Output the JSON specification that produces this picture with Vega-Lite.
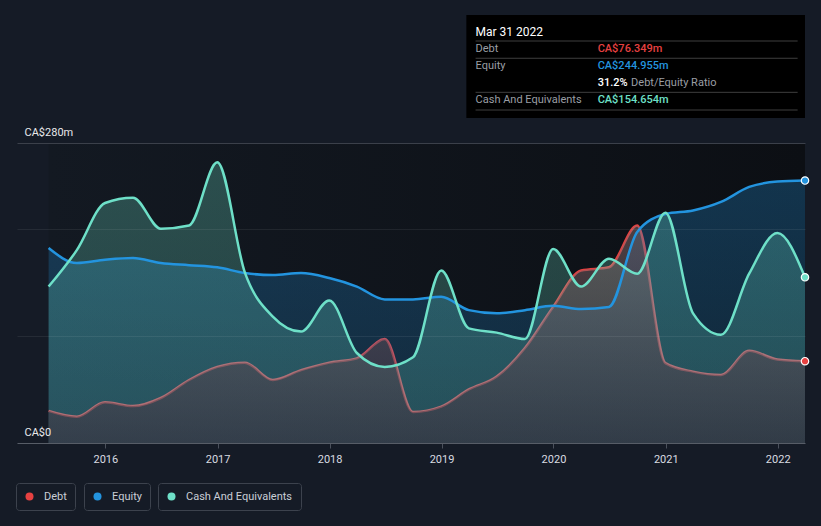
{
  "$schema": "https://vega.github.io/schema/vega-lite/v6.json",
  "width": 788,
  "height": 300,
  "autosize": {"type": "none"},
  "padding": {"left": 17, "top": 143, "right": 16, "bottom": 83},
  "background": "#151b26",
  "config": {"view": {"stroke": null}, "font": "Roboto"},
  "datasets": {
    "main": [
      {"date": "2015-06-30", "debt": 30, "equity": 182, "cash": 146},
      {"date": "2015-09-30", "debt": 24.6, "equity": 168, "cash": 180},
      {"date": "2015-12-31", "debt": 38, "equity": 171, "cash": 224},
      {"date": "2016-03-31", "debt": 34.5, "equity": 172.6, "cash": 229},
      {"date": "2016-06-30", "debt": 42, "equity": 168, "cash": 200},
      {"date": "2016-09-30", "debt": 58.8, "equity": 166, "cash": 203},
      {"date": "2016-12-31", "debt": 71, "equity": 164, "cash": 262},
      {"date": "2017-03-31", "debt": 75, "equity": 158.6, "cash": 159},
      {"date": "2017-06-30", "debt": 58.8, "equity": 156.8, "cash": 118},
      {"date": "2017-09-30", "debt": 68, "equity": 158.6, "cash": 104},
      {"date": "2017-12-31", "debt": 75, "equity": 154, "cash": 133},
      {"date": "2018-03-31", "debt": 79, "equity": 146, "cash": 84},
      {"date": "2018-06-30", "debt": 97, "equity": 134, "cash": 71},
      {"date": "2018-09-30", "debt": 29, "equity": 134, "cash": 80},
      {"date": "2018-12-31", "debt": 34, "equity": 136.5, "cash": 161},
      {"date": "2019-03-31", "debt": 50, "equity": 124, "cash": 107},
      {"date": "2019-06-30", "debt": 62, "equity": 121, "cash": 103},
      {"date": "2019-09-30", "debt": 88.6, "equity": 124, "cash": 97},
      {"date": "2019-12-31", "debt": 127, "equity": 128, "cash": 181},
      {"date": "2020-03-31", "debt": 161, "equity": 125, "cash": 146},
      {"date": "2020-06-30", "debt": 164, "equity": 127, "cash": 172},
      {"date": "2020-09-30", "debt": 203, "equity": 197, "cash": 158},
      {"date": "2020-12-31", "debt": 74.6, "equity": 213.7, "cash": 215},
      {"date": "2021-03-31", "debt": 66.6, "equity": 217, "cash": 121},
      {"date": "2021-06-30", "debt": 63.5, "equity": 225, "cash": 101},
      {"date": "2021-09-30", "debt": 86, "equity": 239, "cash": 158},
      {"date": "2021-12-31", "debt": 78, "equity": 244, "cash": 196},
      {"date": "2022-03-31", "debt": 76.349, "equity": 244.955, "cash": 154.654}
    ],
    "tip": [
      {"kind": "header", "text": "Mar 31 2022", "date": "2019-04-22", "level": 383.5},
      {"kind": "label", "text": "Debt", "date": "2019-04-22", "level": 367.7},
      {"kind": "label", "text": "Equity", "date": "2019-04-22", "level": 351.9},
      {"kind": "label", "text": "Debt/Equity Ratio", "date": "2020-09-10", "level": 336},
      {"kind": "label", "text": "Cash And Equivalents", "date": "2019-04-22", "level": 320.1},
      {"kind": "value", "series": "Debt", "text": "CA$76.349m", "date": "2020-05-24", "level": 367.7},
      {"kind": "value", "series": "Equity", "text": "CA$244.955m", "date": "2020-05-24", "level": 351.9},
      {"kind": "value", "series": "Ratio", "text": "31.2%", "date": "2020-05-24", "level": 336},
      {"kind": "value", "series": "Cash", "text": "CA$154.654m", "date": "2020-05-24", "level": 320.1}
    ],
    "tipLines": [
      {"from": "2019-04-22", "to": "2022-03-07", "level": 375.2},
      {"from": "2019-04-22", "to": "2022-03-07", "level": 359.1},
      {"from": "2019-04-22", "to": "2022-03-07", "level": 327.3},
      {"from": "2019-04-22", "to": "2022-03-07", "level": 310.8}
    ],
    "tipBox": [
      {"from": "2019-03-23", "to": "2022-03-31", "low": 303.3, "high": 399.5}
    ]
  },
  "data": {"name": "main"},
  "resolve": {"scale": {"color": "independent"}},
  "layer": [
    {
      "mark": {"type": "rect", "fill": {"gradient": "linear", "x1": 0, "y1": 0, "x2": 1, "y2": 0, "stops": [{"offset": 0, "color": "#131922"}, {"offset": 1, "color": "#0c0f14"}]}},
      "encoding": {
        "x": {"aggregate": "min", "field": "date", "type": "temporal", "title": null,
          "scale": {"domain": [{"year": 2015, "month": 3, "date": 19}, {"year": 2022, "month": 3, "date": 31}]},
          "axis": {"format": "%Y", "tickCount": {"interval": "year", "step": 1}, "labelColor": "#d9dce1", "labelFontSize": 11, "labelPadding": 5, "tickColor": "#4b515c", "tickSize": 5, "domainColor": "#4b515c", "grid": false, "labelFlush": false, "title": null}},
        "x2": {"aggregate": "max", "field": "date"},
        "y": {"datum": 0, "type": "quantitative", "title": null, "scale": {"domain": [0, 280], "nice": false},
          "axis": {"values": [0, 100, 200, 280], "grid": true,
            "gridColor": {"condition": {"test": "datum.value === 280", "value": "#3b404a"}, "value": "#ffffff"},
            "gridOpacity": {"condition": {"test": "datum.value === 280", "value": 1}, "value": 0.07},
            "labelExpr": "datum.value === 280 ? 'CA$280m' : (datum.value === 0 ? 'CA$0' : '')",
            "labelAlign": "left", "labelPadding": -7, "ticks": false, "domain": false,
            "labelColor": "#e8e9eb", "labelFontSize": 11, "labelBaseline": "bottom", "labelOffset": -6,
            "labelFlush": false, "labelOverlap": false, "zindex": 1, "title": null}},
        "y2": {"datum": 280}
      }
    },
    {
      "mark": {"type": "line", "interpolate": "monotone", "stroke": "#e64141", "strokeWidth": 2.5},
      "encoding": {
        "x": {"field": "date", "type": "temporal", "title": null, "scale": {"domain": [{"year": 2015, "month": 3, "date": 19}, {"year": 2022, "month": 3, "date": 31}]}},
        "y": {"field": "debt", "type": "quantitative", "title": null, "scale": {"domain": [0, 280], "nice": false}}
      }
    },
    {
      "mark": {"type": "area", "interpolate": "monotone", "fill": {"gradient": "linear", "x1": 0, "y1": 0, "x2": 0, "y2": 1, "stops": [{"offset": 0, "color": "rgba(35,148,223,0.28)"}, {"offset": 1, "color": "rgba(35,148,223,0.17)"}]}},
      "encoding": {
        "x": {"field": "date", "type": "temporal", "title": null, "scale": {"domain": [{"year": 2015, "month": 3, "date": 19}, {"year": 2022, "month": 3, "date": 31}]}},
        "y": {"field": "equity", "type": "quantitative", "title": null, "scale": {"domain": [0, 280], "nice": false}}
      }
    },
    {
      "mark": {"type": "area", "interpolate": "monotone", "fill": {"gradient": "linear", "x1": 0, "y1": 0, "x2": 0, "y2": 1, "stops": [{"offset": 0, "color": "rgba(110,224,200,0.28)"}, {"offset": 1, "color": "rgba(110,224,200,0.2)"}]}},
      "encoding": {
        "x": {"field": "date", "type": "temporal", "title": null, "scale": {"domain": [{"year": 2015, "month": 3, "date": 19}, {"year": 2022, "month": 3, "date": 31}]}},
        "y": {"field": "cash", "type": "quantitative", "title": null, "scale": {"domain": [0, 280], "nice": false}}
      }
    },
    {
      "mark": {"type": "area", "interpolate": "monotone", "fill": {"gradient": "linear", "x1": 0, "y1": 0, "x2": 0, "y2": 1, "stops": [{"offset": 0, "color": "rgba(140,110,112,0.5)"}, {"offset": 1, "color": "rgba(64,44,58,0.5)"}]}},
      "encoding": {
        "x": {"field": "date", "type": "temporal", "title": null, "scale": {"domain": [{"year": 2015, "month": 3, "date": 19}, {"year": 2022, "month": 3, "date": 31}]}},
        "y": {"field": "debt", "type": "quantitative", "title": null, "scale": {"domain": [0, 280], "nice": false}}
      }
    },
    {
      "mark": {"type": "line", "interpolate": "monotone", "stroke": "#2394df", "strokeWidth": 2.5},
      "encoding": {
        "x": {"field": "date", "type": "temporal", "title": null, "scale": {"domain": [{"year": 2015, "month": 3, "date": 19}, {"year": 2022, "month": 3, "date": 31}]}},
        "y": {"field": "equity", "type": "quantitative", "title": null, "scale": {"domain": [0, 280], "nice": false}}
      }
    },
    {
      "mark": {"type": "line", "interpolate": "monotone", "stroke": "#6ee0c8", "strokeWidth": 2.5},
      "encoding": {
        "x": {"field": "date", "type": "temporal", "title": null, "scale": {"domain": [{"year": 2015, "month": 3, "date": 19}, {"year": 2022, "month": 3, "date": 31}]}},
        "y": {"field": "cash", "type": "quantitative", "title": null, "scale": {"domain": [0, 280], "nice": false}}
      }
    },
    {
      "transform": [{"filter": "year(datum.date) == 2022 && month(datum.date) == 2"}],
      "mark": {"type": "point", "filled": true, "size": 55, "stroke": "#ffffff", "strokeWidth": 1.2, "opacity": 1},
      "encoding": {
        "x": {"field": "date", "type": "temporal", "title": null, "scale": {"domain": [{"year": 2015, "month": 3, "date": 19}, {"year": 2022, "month": 3, "date": 31}]}},
        "y": {"field": "debt", "type": "quantitative", "title": null, "scale": {"domain": [0, 280], "nice": false}},
        "color": {"datum": "Debt", "scale": {"domain": ["Debt"], "range": ["#e64141"]},
          "legend": {"title": null, "orient": "none", "legendX": -1, "legendY": 340, "padding": 8, "strokeColor": "#3c424d", "cornerRadius": 3, "symbolType": "circle", "symbolSize": 64, "symbolStrokeWidth": 0, "labelColor": "#c9ced6", "labelFontSize": 11, "labelOffset": 9}}
      }
    },
    {
      "transform": [{"filter": "year(datum.date) == 2022 && month(datum.date) == 2"}],
      "mark": {"type": "point", "filled": true, "size": 55, "stroke": "#ffffff", "strokeWidth": 1.2, "opacity": 1},
      "encoding": {
        "x": {"field": "date", "type": "temporal", "title": null, "scale": {"domain": [{"year": 2015, "month": 3, "date": 19}, {"year": 2022, "month": 3, "date": 31}]}},
        "y": {"field": "equity", "type": "quantitative", "title": null, "scale": {"domain": [0, 280], "nice": false}},
        "color": {"datum": "Equity", "scale": {"domain": ["Equity"], "range": ["#2394df"]},
          "legend": {"title": null, "orient": "none", "legendX": 67, "legendY": 340, "padding": 8, "strokeColor": "#3c424d", "cornerRadius": 3, "symbolType": "circle", "symbolSize": 64, "symbolStrokeWidth": 0, "labelColor": "#c9ced6", "labelFontSize": 11, "labelOffset": 9}}
      }
    },
    {
      "transform": [{"filter": "year(datum.date) == 2022 && month(datum.date) == 2"}],
      "mark": {"type": "point", "filled": true, "size": 55, "stroke": "#ffffff", "strokeWidth": 1.2, "opacity": 1},
      "encoding": {
        "x": {"field": "date", "type": "temporal", "title": null, "scale": {"domain": [{"year": 2015, "month": 3, "date": 19}, {"year": 2022, "month": 3, "date": 31}]}},
        "y": {"field": "cash", "type": "quantitative", "title": null, "scale": {"domain": [0, 280], "nice": false}},
        "color": {"datum": "Cash And Equivalents", "scale": {"domain": ["Cash And Equivalents"], "range": ["#6ee0c8"]},
          "legend": {"title": null, "orient": "none", "legendX": 141, "legendY": 340, "padding": 8, "strokeColor": "#3c424d", "cornerRadius": 3, "symbolType": "circle", "symbolSize": 64, "symbolStrokeWidth": 0, "labelColor": "#c9ced6", "labelFontSize": 11, "labelOffset": 9}}
      }
    },
    {
      "data": {"name": "tipBox"},
      "mark": {"type": "rect", "fill": "#000000"},
      "encoding": {
        "x": {"field": "from", "type": "temporal", "title": null, "scale": {"domain": [{"year": 2015, "month": 3, "date": 19}, {"year": 2022, "month": 3, "date": 31}]}},
        "x2": {"field": "to"},
        "y": {"field": "low", "type": "quantitative", "title": null, "scale": {"domain": [0, 280], "nice": false}},
        "y2": {"field": "high"}
      }
    },
    {
      "data": {"name": "tipLines"},
      "mark": {"type": "rule", "stroke": "#3f3f3f", "strokeWidth": 1},
      "encoding": {
        "x": {"field": "from", "type": "temporal", "title": null, "scale": {"domain": [{"year": 2015, "month": 3, "date": 19}, {"year": 2022, "month": 3, "date": 31}]}},
        "x2": {"field": "to"},
        "y": {"field": "level", "type": "quantitative", "title": null, "scale": {"domain": [0, 280], "nice": false}}
      }
    },
    {
      "data": {"name": "tip"},
      "transform": [{"filter": "datum.kind === 'header'"}],
      "mark": {"type": "text", "align": "left", "baseline": "middle", "fontSize": 12, "color": "#ffffff"},
      "encoding": {
        "x": {"field": "date", "type": "temporal", "title": null, "scale": {"domain": [{"year": 2015, "month": 3, "date": 19}, {"year": 2022, "month": 3, "date": 31}]}},
        "y": {"field": "level", "type": "quantitative", "title": null, "scale": {"domain": [0, 280], "nice": false}},
        "text": {"field": "text"}
      }
    },
    {
      "data": {"name": "tip"},
      "transform": [{"filter": "datum.kind === 'label'"}],
      "mark": {"type": "text", "align": "left", "baseline": "middle", "fontSize": 11, "color": "#9a9ea4"},
      "encoding": {
        "x": {"field": "date", "type": "temporal", "title": null, "scale": {"domain": [{"year": 2015, "month": 3, "date": 19}, {"year": 2022, "month": 3, "date": 31}]}},
        "y": {"field": "level", "type": "quantitative", "title": null, "scale": {"domain": [0, 280], "nice": false}},
        "text": {"field": "text"}
      }
    },
    {
      "data": {"name": "tip"},
      "transform": [{"filter": "datum.kind === 'value'"}],
      "mark": {"type": "text", "align": "left", "baseline": "middle", "fontSize": 11, "fontWeight": 500},
      "encoding": {
        "x": {"field": "date", "type": "temporal", "title": null, "scale": {"domain": [{"year": 2015, "month": 3, "date": 19}, {"year": 2022, "month": 3, "date": 31}]}},
        "y": {"field": "level", "type": "quantitative", "title": null, "scale": {"domain": [0, 280], "nice": false}},
        "text": {"field": "text"},
        "color": {"field": "series", "type": "nominal", "scale": {"domain": ["Debt", "Equity", "Ratio", "Cash"], "range": ["#e64141", "#2394df", "#ffffff", "#6ee0c8"]}, "legend": null}
      }
    }
  ]
}
